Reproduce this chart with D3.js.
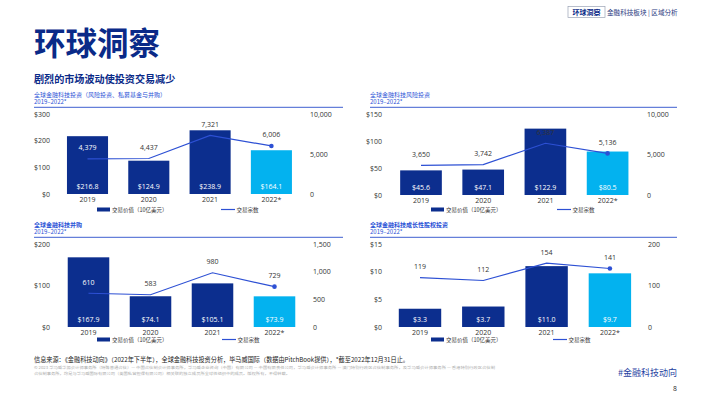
<!DOCTYPE html>
<html><head><meta charset="utf-8">
<script src="https://cdn.jsdelivr.net/npm/d3@7"></script>
<style>
html,body{margin:0;padding:0;background:#fff;}
svg{display:block;font-family:"Noto Sans CJK SC","Noto Sans",sans-serif;}
</style></head>
<body>
<svg id="c" width="710" height="399"></svg>
<script>
// ---- data ----
const years = ["2019", "2020", "2021", "2022*"];

const totalValue = [216.8, 124.9, 238.9, 164.1];
const totalCount = [4379, 4437, 7321, 6006];
const totalLeftTicks = [0, 100, 200, 300];
const totalRightTicks = [0, 5000, 10000];

const vcValue = [45.6, 47.1, 122.9, 80.5];
const vcCount = [3650, 3742, 6387, 5136];
const vcLeftTicks = [0, 50, 100, 150];
const vcRightTicks = [0, 5000, 10000];

const maValue = [167.9, 74.1, 105.1, 73.9];
const maCount = [610, 583, 980, 729];
const maLeftTicks = [0, 100, 200];
const maRightTicks = [0, 500, 1000, 1500];

const peValue = [3.3, 3.7, 11.0, 9.7];
const peCount = [119, 112, 154, 141];
const peLeftTicks = [0, 5, 10, 15];
const peRightTicks = [0, 100, 200];

const legendBar = "交易价值（10亿美元）";
const legendLine = "交易宗数";

// ---- style ----
const NAVY = "#0c2e8e", LIGHT = "#03b2ef", LINE = "#2d50d4", TITLE = "#0a2a88", SUB = "#2a52d6", TXT = "#333";
const svg = d3.select("#c");
const fmt = d3.format(",");

function text(x, y, s, size, color, opts = {}) {
  const t = svg.append("text").attr("x", x).attr("y", y).attr("dominant-baseline", "central")
    .attr("font-size", size).attr("fill", color).text(s);
  if (opts.anchor) t.attr("text-anchor", opts.anchor);
  if (opts.bold) t.attr("font-weight", "bold");
  if (opts.len) t.attr("textLength", opts.len).attr("lengthAdjust", "spacingAndGlyphs");
  return t;
}

// header
svg.append("rect").attr("x", 568).attr("y", 6.5).attr("width", 37).attr("height", 11)
  .attr("fill", "none").attr("stroke", "#9aa3b5").attr("stroke-width", 0.7);
text(586.5, 12, "环球洞察", 7, TITLE, {anchor: "middle", bold: true});
text(607, 12, "金融科技板块 | 区域分析", 6.6, "#2b3a80");

// title
text(34, 41, "环球洞察", 31.5, TITLE, {bold: true});
text(34, 78.5, "剧烈的市场波动使投资交易减少", 10.1, TITLE, {bold: true});

function panel(cfg) {
  const {title, titleBold, tx, tRight, tY, c0, step, y0, y1, leftX, rightX, values, counts, lt, rt, legend, darkLabel} = cfg;
  text(tx, tY, title, 6, SUB, {bold: titleBold});
  text(tx, tY + 7.2, "2019–2022*", 6, SUB);
  svg.append("line").attr("x1", tx).attr("x2", tRight).attr("y1", tY + 12.8).attr("y2", tY + 12.8)
    .attr("stroke", "#3f5fd0").attr("stroke-width", 1);

  const x = d3.scaleBand().domain(years).range([c0 - step / 2, c0 + 3.5 * step])
    .paddingInner(0.33).paddingOuter(0.165);
  const yL = d3.scaleLinear().domain([lt[0], lt[lt.length - 1]]).range([y0, y1]);
  const yR = d3.scaleLinear().domain([rt[0], rt[rt.length - 1]]).range([y0, y1]);

  // left axis
  const gl = svg.append("g").attr("transform", `translate(${leftX},0)`)
    .call(d3.axisLeft(yL).tickValues(lt).tickSize(0).tickPadding(0).tickFormat(d => "$" + d));
  gl.select(".domain").remove();
  gl.selectAll("text").attr("font-size", 7).attr("fill", TXT).attr("font-family", "Open Sans, Noto Sans, sans-serif");
  // right axis
  const gr = svg.append("g").attr("transform", `translate(${rightX},0)`)
    .call(d3.axisRight(yR).tickValues(rt).tickSize(0).tickPadding(0).tickFormat(fmt));
  gr.select(".domain").remove();
  gr.selectAll("text").attr("font-size", 7).attr("fill", TXT).attr("font-family", "Open Sans, Noto Sans, sans-serif");

  // bars
  svg.append("g").selectAll("rect").data(values).join("rect")
    .attr("x", (d, i) => x(years[i])).attr("width", x.bandwidth())
    .attr("y", d => yL(d)).attr("height", d => y0 - yL(d))
    .attr("fill", (d, i) => i === years.length - 1 ? LIGHT : NAVY);
  svg.append("g").selectAll("text").data(values).join("text")
    .attr("x", (d, i) => x(years[i]) + x.bandwidth() / 2).attr("y", y0 - 8)
    .attr("text-anchor", "middle").attr("dominant-baseline", "central")
    .attr("font-size", 7).attr("fill", "#fff").attr("font-family", "Open Sans, Noto Sans, sans-serif")
    .text(d => "$" + d.toFixed(1));

  // line
  const line = d3.line().x((d, i) => x(years[i]) + x.bandwidth() / 2).y(d => yR(d));
  svg.append("path").datum(counts).attr("d", line).attr("fill", "none")
    .attr("stroke", LINE).attr("stroke-width", 1.2);
  const li = counts.length - 1;
  svg.append("circle").attr("cx", x(years[li]) + x.bandwidth() / 2).attr("cy", yR(counts[li]))
    .attr("r", 2.3).attr("fill", LINE);

  // count labels (white when inside a bar)
  svg.append("g").selectAll("text").data(counts).join("text")
    .attr("x", (d, i) => x(years[i]) + x.bandwidth() / 2).attr("y", d => yR(d) - 11)
    .attr("text-anchor", "middle").attr("dominant-baseline", "central")
    .attr("font-size", 7).attr("font-family", "Open Sans, Noto Sans, sans-serif")
    .attr("fill", (d, i) => (yR(d) - 14 > yL(values[i]) && i !== darkLabel) ? "#fff" : TXT)
    .text(d => fmt(d));

  // category labels
  const gx = svg.append("g").attr("transform", `translate(0,${y0})`)
    .call(d3.axisBottom(x).tickSize(0).tickPadding(0));
  gx.select(".domain").remove();
  gx.selectAll("text").attr("dy", null).attr("y", 5).attr("dominant-baseline", "central")
    .attr("font-size", 7).attr("fill", TXT).attr("font-family", "Open Sans, Noto Sans, sans-serif");

  // legend
  const [sq, ly, lx] = legend;
  svg.append("rect").attr("x", sq).attr("y", ly - 2).attr("width", 13).attr("height", 4).attr("fill", NAVY);
  text(sq + 15, ly, legendBar, 5.5, TXT);
  svg.append("line").attr("x1", lx).attr("x2", lx + 14).attr("y1", ly).attr("y2", ly)
    .attr("stroke", LINE).attr("stroke-width", 1.2);
  text(lx + 15.5, ly, legendLine, 5.5, TXT);
}

panel({title: "全球金融科技投资（风险投资、私募基金与并购）", titleBold: false, tx: 34, tRight: 343, tY: 94.5,
  c0: 87.5, step: 61.3, y0: 194, y1: 114, leftX: 50, rightX: 310,
  values: totalValue, counts: totalCount, lt: totalLeftTicks, rt: totalRightTicks, legend: [97, 209.5, 221], darkLabel: -1});
panel({title: "全球金融科技风险投资", titleBold: false, tx: 370, tRight: 677, tY: 94.5,
  c0: 421, step: 62.2, y0: 195, y1: 114, leftX: 382, rightX: 647,
  values: vcValue, counts: vcCount, lt: vcLeftTicks, rt: vcRightTicks, legend: [431, 209.5, 557], darkLabel: 2});
panel({title: "全球金融科技并购", titleBold: true, tx: 34, tRight: 343, tY: 224.5,
  c0: 88.5, step: 62, y0: 327, y1: 244, leftX: 50, rightX: 313,
  values: maValue, counts: maCount, lt: maLeftTicks, rt: maRightTicks, legend: [97, 339.5, 222], darkLabel: -1});
panel({title: "全球金融科技成长性股权投资", titleBold: true, tx: 370, tRight: 677, tY: 224.5,
  c0: 420, step: 63.3, y0: 327, y1: 244, leftX: 382, rightX: 648,
  values: peValue, counts: peCount, lt: peLeftTicks, rt: peRightTicks, legend: [431, 339.5, 553], darkLabel: -1});

// footer
text(34, 359.5, "信息来源：《金融科技动向》（2022年下半年），全球金融科技投资分析，毕马威国际（数据由PitchBook提供），*截至2022年12月31日止。", 6.3, "#222", {len: 375});
text(34, 367, "© 2023 毕马威华振会计师事务所（特殊普通合伙）— 中国合伙制会计师事务所，毕马威企业咨询（中国）有限公司 — 中国有限责任公司，毕马威会计师事务所 — 澳门特别行政区合伙制事务所，及毕马威会计师事务所 — 香港特别行政区合伙制", 3.8, "#aaa", {len: 461});
text(34, 373.5, "合伙制事务所，均是与毕马威国际有限公司（英国私营担保有限公司）相关联的独立成员所全球性组织中的成员。版权所有，不得转载。", 3.8, "#aaa", {len: 256});
text(677, 372.5, "#金融科技动向", 9, "#1f3f9f", {anchor: "end"});
text(677, 388, "8", 7, "#333", {anchor: "end"});
</script>
</body></html>
